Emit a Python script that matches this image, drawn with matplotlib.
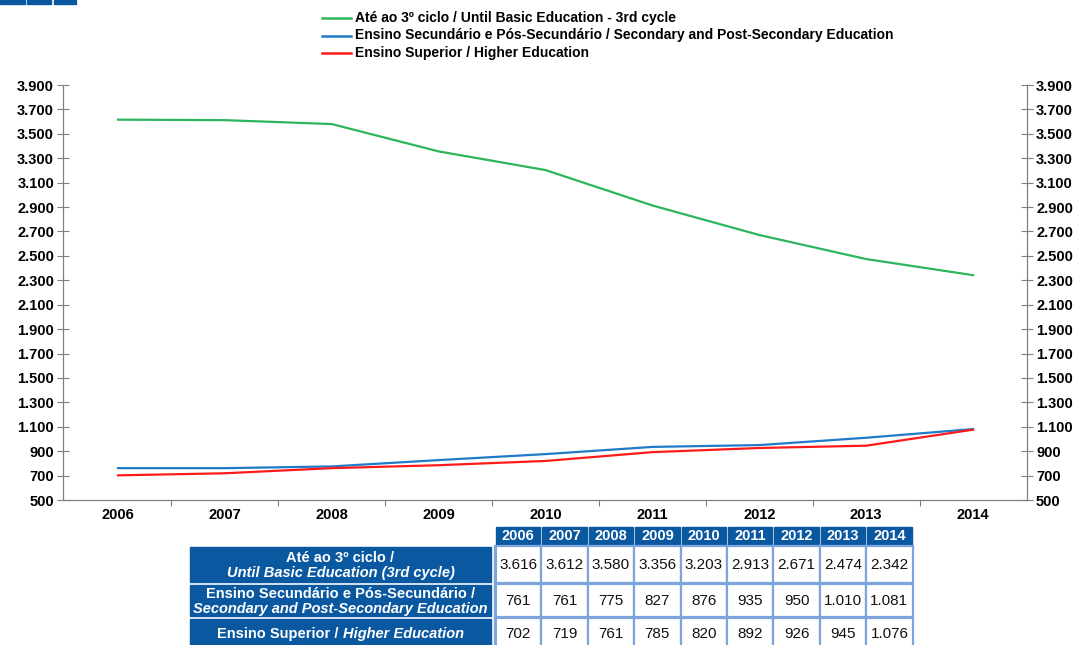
import matplotlib
matplotlib.use("Agg")
import matplotlib.pyplot as plt
from matplotlib.patches import Rectangle
from matplotlib.lines import Line2D

plt.rcParams['font.family'] = ['Liberation Sans', 'DejaVu Sans']

# ── Datos ──────────────────────────────────────────────
anos = [2006, 2007, 2008, 2009, 2010, 2011, 2012, 2013, 2014]
basico = [3616, 3612, 3580, 3356, 3203, 2913, 2671, 2474, 2342]
secundario = [761, 761, 775, 827, 876, 935, 950, 1010, 1081]
superior = [702, 719, 761, 785, 820, 892, 926, 945, 1076]

series = [basico, secundario, superior]
leyendas = ["Até ao 3º ciclo / Until Basic Education - 3rd cycle",
            "Ensino Secundário e Pós-Secundário / Secondary and Post-Secondary Education",
            "Ensino Superior / Higher Education"]
filas_pt = ["Até ao 3º ciclo /", "Ensino Secundário e Pós-Secundário /", "Ensino Superior / "]
filas_en = ["Until Basic Education (3rd cycle)", "Secondary and Post-Secondary Education",
            "Higher Education"]
colores = ["#2DB55D", "#1F7BC8", "#FF1A1A"]

y_ticks = list(range(500, 4000, 200))

AZUL = "#0A58A0"
BORDE = "#7DA4DC"


def fmt(v):
    return f"{v:,}".replace(",", ".")


W, H = 1079, 645
fig = plt.figure(figsize=(W / 100, H / 100), dpi=100)

# ── Gráfico principal ──────────────────────────────────
x0, x1, yb, yt = 63, 1027, 500, 85
ax = fig.add_axes([x0 / W, 1 - yb / H, (x1 - x0) / W, (yb - yt) / H])
xs = list(range(len(anos)))
for vals, c in zip(series, colores):
    ax.plot(xs, vals, color=c, lw=1.6)
ax.set_xlim(-0.515, len(anos) - 0.495)
ax.set_ylim(500, 3900)
ax.set_yticks(y_ticks)
ax.set_yticklabels([fmt(v) for v in y_ticks], fontsize=10.5, fontweight='bold')
ax.tick_params(axis='y', direction='inout', length=9, width=0.8, color='#808080',
               right=True, labelright=True, pad=2)
ax.set_xticks([i + 0.5 for i in xs[:-1]])
ax.set_xticklabels([])
ax.set_xticks(xs, minor=True)
ax.set_xticklabels([str(a) for a in anos], minor=True, fontsize=10.5, fontweight='bold')
ax.tick_params(axis='x', which='major', direction='out', length=4, color='#808080')
ax.tick_params(axis='x', which='minor', length=0, pad=6)
ax.spines['top'].set_visible(False)
for s in ['left', 'right', 'bottom']:
    ax.spines[s].set_color('#808080')
    ax.spines[s].set_linewidth(0.9)
ax.set_facecolor('none')

# ── Capa en píxeles para leyenda y tabla ───────────────
ov = fig.add_axes([0, 0, 1, 1], zorder=5)
ov.set_xlim(0, W)
ov.set_ylim(H, 0)
ov.axis('off')
ov.patch.set_alpha(0)

# pequeños bloques azules de la cabecera cortada
for xa, xb in [(0, 25), (27, 51), (54, 76)]:
    ov.add_patch(Rectangle((xa, 0), xb - xa, 4, color=AZUL))

# leyenda
for i, (txt, c) in enumerate(zip(leyendas, colores)):
    yy = 18 + i * 17.5
    ov.add_line(Line2D([322, 351], [yy, yy], color=c, lw=1.8))
    ov.text(355, yy, txt, fontsize=10, fontweight='bold', va='center', ha='left')

# tabla
col_x0, col_w = 496, 46.4
hdr_y0, hdr_y1 = 527, 545
filas_y = [(547, 583), (585, 617), (619, 650)]
lab_x0, lab_x1 = 190, 491

for j, a in enumerate(anos):
    cx = col_x0 + j * col_w
    ov.add_patch(Rectangle((cx, hdr_y0), col_w - 2, hdr_y1 - hdr_y0, color=AZUL))
    ov.text(cx + (col_w - 2) / 2, (hdr_y0 + hdr_y1) / 2 + 0.5, str(a), color='white',
            fontsize=10.5, fontweight='bold', ha='center', va='center')

for i, ((ya, yb_), vals) in enumerate(zip(filas_y, series)):
    ov.add_patch(Rectangle((lab_x0, ya), lab_x1 - lab_x0, yb_ - ya - 1.5, color=AZUL))
    for j, v in enumerate(vals):
        cx = col_x0 + j * col_w
        ov.add_patch(Rectangle((cx - 1, ya - 1), col_w, yb_ - ya + 1, facecolor='white',
                               edgecolor=BORDE, lw=1.6))
        ov.text(cx + col_w / 2 - 1, (ya + yb_) / 2, fmt(v), fontsize=11,
                ha='center', va='center', color='#111111')

ov.add_line(Line2D([col_x0 - 1.5, col_x0 - 1.5], [filas_y[0][0] - 1, H], color=BORDE, lw=2.2))

cxl = (lab_x0 + lab_x1) / 2
for i in range(2):
    ya, yb_ = filas_y[i]
    ym = (ya + yb_) / 2
    ov.text(cxl, ym - 7.5, filas_pt[i], color='white', fontsize=10.5, fontweight='bold',
            ha='center', va='center')
    ov.text(cxl, ym + 8, filas_en[i], color='white', fontsize=10.5, fontweight='bold',
            style='italic', ha='center', va='center')

# fila 3 en una sola línea con estilos mezclados
ym = 634
t1 = ov.text(0, ym, filas_pt[2], color='white', fontsize=10.5, fontweight='bold',
             ha='left', va='center')
t2 = ov.text(0, ym, filas_en[2], color='white', fontsize=10.5, fontweight='bold',
             style='italic', ha='left', va='center')
fig.canvas.draw()
r = fig.canvas.get_renderer()
w1 = t1.get_window_extent(r).width
w2 = t2.get_window_extent(r).width
start = cxl - (w1 + w2) / 2
t1.set_x(start)
t2.set_x(start + w1)

fig.savefig("out.png", dpi=100)
